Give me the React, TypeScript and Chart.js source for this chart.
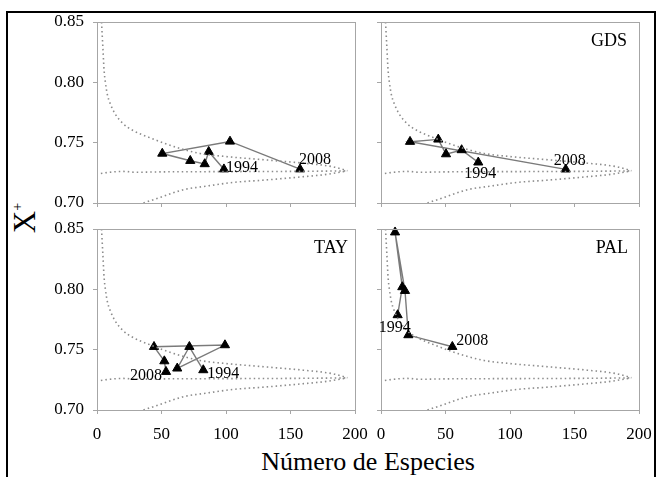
import React, { useEffect, useRef } from "react";
import { Chart, registerables } from "chart.js";

Chart.register(...registerables);

// ---------- data ----------
const xTicks = [0, 50, 100, 150, 200];
const yTicks = [0.7, 0.75, 0.8, 0.85];

// reference funnel (same in all four panels)
const upperX = [3.5, 4.5, 5.5, 6.5, 8, 10, 14, 20, 28, 40, 51, 65, 80, 100, 132, 160, 183, 194];
const upperY = [0.85, 0.83, 0.81, 0.8, 0.79, 0.783, 0.774, 0.766, 0.76, 0.7545, 0.75, 0.745, 0.741, 0.7385, 0.7356, 0.733, 0.73, 0.7268];
const meanX = [3, 10, 20, 30, 50, 100, 150, 194];
const meanY = [0.7245, 0.7255, 0.7262, 0.7255, 0.7258, 0.726, 0.7262, 0.7266];
const lowerX = [36, 50, 67, 85, 105, 130, 157, 180, 194];
const lowerY = [0.7, 0.705, 0.711, 0.714, 0.717, 0.719, 0.7215, 0.724, 0.7266];

// site trajectories (1994 -> 2008)
const site1X = [98.4, 86.6, 83.5, 72.3, 50.6, 103.1, 157.4];
const site1Y = [0.728, 0.7425, 0.7323, 0.735, 0.741, 0.751, 0.728];
const gdsX = [75.4, 62.5, 50.4, 44.4, 22.5, 143.2];
const gdsY = [0.7337, 0.7439, 0.7405, 0.7527, 0.7508, 0.7279];
const tayX = [82.4, 71.6, 62.2, 99.2, 44.2, 52.2, 53.5];
const tayY = [0.7331, 0.7524, 0.7345, 0.7538, 0.7524, 0.7405, 0.7317];
const palX = [12.9, 16.5, 10.9, 18.6, 21.2, 55.3];
const palY = [0.7787, 0.8019, 0.8473, 0.7988, 0.7621, 0.7524];

const yearStart = "1994";
const yearEnd = "2008";

const FONT = '"Liberation Serif", "Times New Roman", serif';
Chart.defaults.font.family = FONT;

const pts = (xs: number[], ys: number[]) => xs.map((x, i) => ({ x, y: ys[i] }));

type LabelSpec = { text: string; index: number; dx: number; dy: number; align: CanvasTextAlign };

type PanelSpec = {
  left: number;
  top: number;
  showX: boolean;
  showY: boolean;
  xs: number[];
  ys: number[];
  title: string;
  titleRight: number;
  labels: LabelSpec[];
};

const YW = 50;
const PAD_TOP = 12;
const PAD_RIGHT = 16;
const AREA_W = 258;
const AREA_H = 181;

const panels: PanelSpec[] = [
  {
    left: 47, top: 10, showX: false, showY: true, xs: site1X, ys: site1Y, title: "", titleRight: 11,
    labels: [
      { text: yearStart, index: 0, dx: 2, dy: 3, align: "left" },
      { text: yearEnd, index: 6, dx: -1, dy: -5, align: "left" },
    ],
  },
  {
    left: 331, top: 10, showX: false, showY: false, xs: gdsX, ys: gdsY, title: "GDS", titleRight: 12,
    labels: [
      { text: yearStart, index: 0, dx: 2, dy: 16, align: "center" },
      { text: yearEnd, index: 5, dx: 4, dy: -4, align: "center" },
    ],
  },
  {
    left: 47, top: 217, showX: true, showY: true, xs: tayX, ys: tayY, title: "TAY", titleRight: 7,
    labels: [
      { text: yearStart, index: 0, dx: 4, dy: 8, align: "left" },
      { text: yearEnd, index: 6, dx: -4, dy: 8, align: "right" },
    ],
  },
  {
    left: 331, top: 217, showX: true, showY: false, xs: palX, ys: palY, title: "PAL", titleRight: 11,
    labels: [
      { text: yearStart, index: 0, dx: -3, dy: 17, align: "center" },
      { text: yearEnd, index: 5, dx: 4, dy: -2, align: "left" },
    ],
  },
];

function Panel({ spec }: { spec: PanelSpec }) {
  const ref = useRef<HTMLCanvasElement | null>(null);
  const xh = spec.showX ? 35 : 8;
  const width = YW + AREA_W + PAD_RIGHT;
  const height = PAD_TOP + AREA_H + xh;

  useEffect(() => {
    let chart: any = null;
    let cancelled = false;
    const build = () => {
      if (cancelled || !ref.current) return;
      const funnelStyle = {
        showLine: true,
        pointRadius: 0,
        borderColor: "#8c8c8c",
        borderWidth: 1.6,
        borderDash: [1.5, 3],
        cubicInterpolationMode: "monotone" as const,
        fill: false,
      };
      const decor = {
        id: "decor",
        afterDatasetsDraw(c: any) {
          const { ctx, chartArea } = c;
          ctx.save();
          ctx.strokeStyle = "#a6a6a6";
          ctx.lineWidth = 1;
          ctx.strokeRect(chartArea.left + 0.5, chartArea.top + 0.5, chartArea.right - chartArea.left, chartArea.bottom - chartArea.top);
          ctx.fillStyle = "#000";
          if (spec.title) {
            ctx.font = `18px ${FONT}`;
            ctx.textAlign = "right";
            ctx.textBaseline = "alphabetic";
            ctx.fillText(spec.title, chartArea.right - spec.titleRight, chartArea.top + 24);
          }
          const meta = c.getDatasetMeta(3);
          ctx.font = `16px ${FONT}`;
          ctx.textBaseline = "alphabetic";
          spec.labels.forEach((l) => {
            const el = meta.data[l.index];
            if (!el) return;
            ctx.textAlign = l.align;
            ctx.fillText(l.text, el.x + l.dx, el.y + l.dy);
          });
          ctx.restore();
        },
      };
      chart = new Chart(ref.current, {
        type: "scatter",
        data: {
          datasets: [
            { ...funnelStyle, data: pts(upperX, upperY) },
            { ...funnelStyle, data: pts(meanX, meanY) },
            { ...funnelStyle, data: pts(lowerX, lowerY) },
            {
              data: pts(spec.xs, spec.ys),
              showLine: true,
              borderColor: "#7a7a7a",
              borderWidth: 1.4,
              pointStyle: "triangle",
              pointRadius: 5.3,
              pointBackgroundColor: "#000",
              pointBorderColor: "#000",
              pointBorderWidth: 1,
              clip: false as any,
            },
          ],
        },
        options: {
          animation: false,
          responsive: false,
          events: [],
          layout: { padding: { top: PAD_TOP, right: PAD_RIGHT, left: 0, bottom: 0 } },
          plugins: { legend: { display: false }, tooltip: { enabled: false } },
          scales: {
            x: {
              type: "linear",
              min: 0,
              max: 200,
              afterBuildTicks: (s: any) => { s.ticks = xTicks.map((v) => ({ value: v })); },
              ticks: { display: spec.showX, color: "#000", font: { family: FONT, size: 17 }, padding: 10, maxRotation: 0, autoSkip: false },
              grid: { display: true, drawOnChartArea: false, drawTicks: true, tickLength: 4, color: "#a6a6a6" },
              border: { display: true, color: "#a6a6a6" },
              afterFit: (s: any) => { s.height = xh; s.paddingLeft = 0; s.paddingRight = 0; },
            },
            y: {
              type: "linear",
              min: 0.7,
              max: 0.85,
              afterBuildTicks: (s: any) => { s.ticks = yTicks.map((v) => ({ value: v })); },
              ticks: { display: spec.showY, color: "#000", font: { family: FONT, size: 17 }, padding: 9, callback: (v: any) => Number(v).toFixed(2) },
              grid: { display: true, drawOnChartArea: false, drawTicks: true, tickLength: 4, color: "#a6a6a6" },
              border: { display: true, color: "#a6a6a6" },
              afterFit: (s: any) => { s.width = YW; s.paddingTop = 0; s.paddingBottom = 0; },
            },
          },
        },
        plugins: [decor],
      } as any);
    };
    const fontsApi = (document as any).fonts;
    if (fontsApi && fontsApi.load) {
      Promise.all([
        fontsApi.load(`17px "Liberation Serif"`),
        fontsApi.load(`16px "Liberation Serif"`),
      ]).then(build, build);
    } else {
      build();
    }
    return () => {
      cancelled = true;
      if (chart) chart.destroy();
    };
  }, [spec]);

  return (
    <canvas
      ref={ref}
      width={width}
      height={height}
      style={{ position: "absolute", left: spec.left, top: spec.top, width, height }}
    />
  );
}

export default function App() {
  return (
    <div style={{ position: "absolute", left: 0, top: 0, width: 658, height: 477, overflow: "hidden", background: "#fff", fontFamily: FONT }}>
      <div style={{ position: "absolute", left: 6, top: 11, width: 650, height: 480, border: "2px solid #000", boxSizing: "border-box" }} />
      {panels.map((p, i) => (
        <Panel key={i} spec={p} />
      ))}
      <div
        style={{
          position: "absolute",
          left: 24,
          top: 218,
          transform: "translate(-50%, -50%) rotate(-90deg)",
          fontSize: 31,
          lineHeight: "31px",
          whiteSpace: "nowrap",
          color: "#000",
        }}
      >
        X<sup style={{ fontSize: 14, verticalAlign: "0.9em", lineHeight: 0 }}>+</sup>
      </div>
      <div
        style={{
          position: "absolute",
          left: 368,
          top: 449,
          transform: "translateX(-50%)",
          fontSize: 26,
          lineHeight: "26px",
          whiteSpace: "nowrap",
          color: "#000",
        }}
      >
        Número de Especies
      </div>
    </div>
  );
}
